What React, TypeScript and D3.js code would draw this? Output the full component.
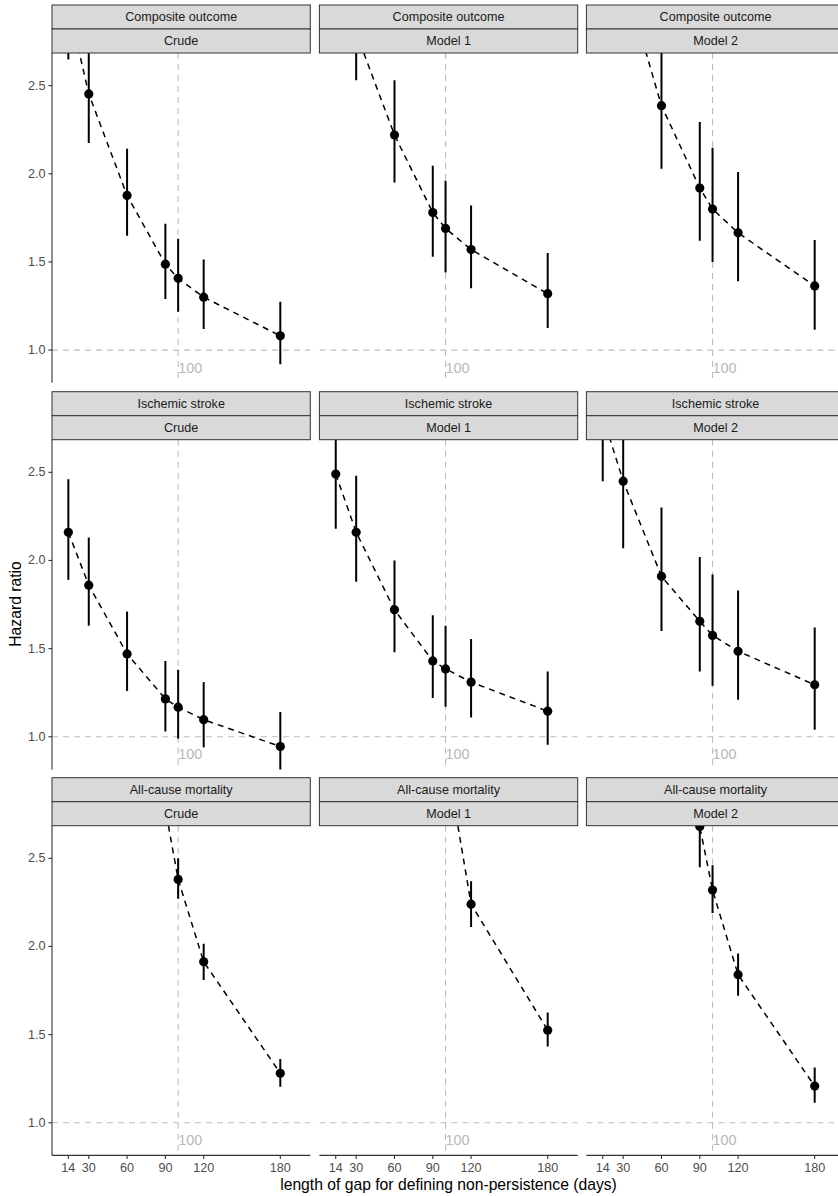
import React from "react";
import * as d3 from "d3";

// ---------- data ----------
const outcomes = ["Composite outcome", "Ischemic stroke", "All-cause mortality"];
const models = ["Crude", "Model 1", "Model 2"];
const gapDays = [14, 30, 60, 90, 100, 120, 180];
const xTicks = [14, 30, 60, 90, 120, 180];
const yTicks = [1.0, 1.5, 2.0, 2.5];

// Composite outcome
const compositeCrudeHR = [2.96, 2.453, 1.877, 1.487, 1.407, 1.3, 1.081];
const compositeCrudeLo = [2.648, 2.174, 1.648, 1.29, 1.217, 1.119, 0.92];
const compositeCrudeHi = [3.3, 2.75, 2.142, 1.716, 1.631, 1.514, 1.274];
const compositeM1HR = [3.35, 2.8, 2.22, 1.78, 1.69, 1.57, 1.32];
const compositeM1Lo = [2.95, 2.53, 1.95, 1.53, 1.44, 1.35, 1.125];
const compositeM1Hi = [3.8, 3.12, 2.53, 2.045, 1.96, 1.82, 1.55];
const compositeM2HR = [3.6, 3.13, 2.386, 1.919, 1.8, 1.665, 1.364];
const compositeM2Lo = [3.15, 2.75, 2.028, 1.62, 1.5, 1.39, 1.115];
const compositeM2Hi = [4.1, 3.55, 2.8, 2.294, 2.148, 2.01, 1.625];

// Ischemic stroke
const strokeCrudeHR = [2.16, 1.86, 1.47, 1.215, 1.168, 1.097, 0.945];
const strokeCrudeLo = [1.89, 1.63, 1.26, 1.03, 0.99, 0.94, 0.81];
const strokeCrudeHi = [2.46, 2.13, 1.71, 1.43, 1.38, 1.31, 1.14];
const strokeM1HR = [2.49, 2.16, 1.72, 1.43, 1.385, 1.31, 1.145];
const strokeM1Lo = [2.18, 1.88, 1.48, 1.22, 1.17, 1.11, 0.955];
const strokeM1Hi = [2.85, 2.48, 2.0, 1.69, 1.63, 1.555, 1.37];
const strokeM2HR = [2.82, 2.45, 1.91, 1.655, 1.575, 1.485, 1.295];
const strokeM2Lo = [2.45, 2.07, 1.6, 1.37, 1.29, 1.21, 1.04];
const strokeM2Hi = [3.25, 2.8, 2.3, 2.02, 1.92, 1.83, 1.62];

// All-cause mortality
const mortalityCrudeHR = [6.0, 4.9, 3.6, 2.78, 2.38, 1.913, 1.281];
const mortalityCrudeLo = [5.2, 4.4, 3.3, 2.71, 2.27, 1.81, 1.205];
const mortalityCrudeHi = [6.9, 5.5, 3.9, 2.9, 2.5, 2.015, 1.362];
const mortalityM1HR = [8.0, 6.5, 4.8, 3.6, 3.1, 2.24, 1.525];
const mortalityM1Lo = [7.0, 5.8, 4.4, 3.3, 2.9, 2.11, 1.432];
const mortalityM1Hi = [9.1, 7.3, 5.2, 3.9, 3.3, 2.37, 1.625];
const mortalityM2HR = [7.0, 5.5, 3.8, 2.68, 2.32, 1.84, 1.208];
const mortalityM2Lo = [6.0, 4.8, 3.4, 2.45, 2.19, 1.72, 1.114];
const mortalityM2Hi = [8.1, 6.3, 4.2, 2.95, 2.46, 1.96, 1.313];

const panelHR = [
  [compositeCrudeHR, compositeM1HR, compositeM2HR],
  [strokeCrudeHR, strokeM1HR, strokeM2HR],
  [mortalityCrudeHR, mortalityM1HR, mortalityM2HR],
];
const panelLo = [
  [compositeCrudeLo, compositeM1Lo, compositeM2Lo],
  [strokeCrudeLo, strokeM1Lo, strokeM2Lo],
  [mortalityCrudeLo, mortalityM1Lo, mortalityM2Lo],
];
const panelHi = [
  [compositeCrudeHi, compositeM1Hi, compositeM2Hi],
  [strokeCrudeHi, strokeM1Hi, strokeM2Hi],
  [mortalityCrudeHi, mortalityM1Hi, mortalityM2Hi],
];

const refX = 100;
const refY = 1.0;
const refLabelY = 0.9;

// ---------- layout ----------
const W = 838;
const H = 1196;
const colLeft = [52, 319.4, 586.4];
const panelW = 258.3;
const stripTop = [5, 391.7, 777.7];
const stripH = 24;
const panelH = 329.7;
const font = "'Liberation Sans', Arial, Helvetica, sans-serif";

const xBase = d3.scaleLinear().domain([1.2, 203.5]).range([0, panelW]);
const yBase = d3.scaleLinear().domain([0.815, 2.685]).range([panelH, 0]);

export default function App() {
  const lineGen = d3
    .line<[number, number]>()
    .x((d) => xBase(d[0]))
    .y((d) => yBase(d[1]));

  const panels: React.ReactNode[] = [];
  for (let r = 0; r < 3; r++) {
    for (let c = 0; c < 3; c++) {
      const px = colLeft[c];
      const sy = stripTop[r];
      const py = sy + stripH * 2;
      const id = `clip-${r}-${c}`;
      const hr = panelHR[r][c];
      const lo = panelLo[r][c];
      const hi = panelHi[r][c];
      const pts: [number, number][] = gapDays.map((d, i) => [d, hr[i]]);
      panels.push(
        <g key={id}>
          <defs>
            <clipPath id={id}>
              <rect x={0} y={0} width={panelW} height={panelH} />
            </clipPath>
          </defs>
          <g transform={`translate(${px},${py})`}>
            <g clipPath={`url(#${id})`}>
              <line
                x1={0}
                x2={panelW}
                y1={yBase(refY)}
                y2={yBase(refY)}
                stroke="#bdbdbd"
                strokeWidth={1.1}
                strokeDasharray="6,5"
              />
              <line
                x1={xBase(refX)}
                x2={xBase(refX)}
                y1={0}
                y2={panelH}
                stroke="#bdbdbd"
                strokeWidth={1.1}
                strokeDasharray="6,5"
              />
              <path
                d={lineGen(pts) || ""}
                fill="none"
                stroke="#000"
                strokeWidth={1.5}
                strokeDasharray="6,5"
              />
              {gapDays.map((d, i) => (
                <line
                  key={`e${i}`}
                  x1={xBase(d)}
                  x2={xBase(d)}
                  y1={yBase(lo[i])}
                  y2={yBase(hi[i])}
                  stroke="#000"
                  strokeWidth={2}
                />
              ))}
              {gapDays.map((d, i) => (
                <circle key={`p${i}`} cx={xBase(d)} cy={yBase(hr[i])} r={4.6} fill="#000" />
              ))}
            </g>
            <text
              x={xBase(refX)}
              y={yBase(refLabelY)}
              fill="#b8b8b8"
              fontSize={14.4}
              fontFamily={font}
              dominantBaseline="central"
              textAnchor="start"
            >
              {refX}
            </text>
          </g>
          {/* strips */}
          <rect x={px} y={sy} width={panelW} height={stripH} fill="#d9d9d9" stroke="#333" strokeWidth={1} />
          <rect x={px} y={sy + stripH} width={panelW} height={stripH} fill="#d9d9d9" stroke="#333" strokeWidth={1} />
          <text
            x={px + panelW / 2}
            y={sy + stripH / 2}
            textAnchor="middle"
            dominantBaseline="central"
            fontSize={12.6}
            fontFamily={font}
            fill="#1a1a1a"
          >
            {outcomes[r]}
          </text>
          <text
            x={px + panelW / 2}
            y={sy + stripH * 1.5}
            textAnchor="middle"
            dominantBaseline="central"
            fontSize={12.6}
            fontFamily={font}
            fill="#1a1a1a"
          >
            {models[c]}
          </text>
        </g>
      );
    }
  }

  // y axes (first column)
  const yAxes = [0, 1, 2].map((r) => {
    const py = stripTop[r] + stripH * 2;
    return (
      <g key={`ya${r}`} transform={`translate(${colLeft[0]},${py})`}>
        <line x1={0} x2={0} y1={0} y2={panelH} stroke="#333" strokeWidth={1.1} />
        {yTicks.map((t) => (
          <g key={t} transform={`translate(0,${yBase(t)})`}>
            <line x1={-3.6} x2={0} stroke="#333" strokeWidth={1.1} />
            <text
              x={-6.5}
              textAnchor="end"
              dominantBaseline="central"
              fontSize={12.6}
              fontFamily={font}
              fill="#4d4d4d"
            >
              {t.toFixed(1)}
            </text>
          </g>
        ))}
      </g>
    );
  });

  // x axes (bottom row)
  const bottomY = stripTop[2] + stripH * 2 + panelH;
  const xAxes = [0, 1, 2].map((c) => (
    <g key={`xa${c}`} transform={`translate(${colLeft[c]},${bottomY})`}>
      <line x1={0} x2={panelW} y1={0} y2={0} stroke="#333" strokeWidth={1.1} />
      {xTicks.map((t) => (
        <g key={t} transform={`translate(${xBase(t)},0)`}>
          <line y1={0} y2={3.6} stroke="#333" strokeWidth={1.1} />
          <text
            y={13}
            textAnchor="middle"
            dominantBaseline="central"
            fontSize={12.6}
            fontFamily={font}
            fill="#4d4d4d"
          >
            {t}
          </text>
        </g>
      ))}
    </g>
  ));

  return (
    <svg
      width={W}
      height={H}
      viewBox={`0 0 ${W} ${H}`}
      style={{ position: "absolute", left: 0, top: 0, background: "#fff" }}
    >
      <rect x={0} y={0} width={W} height={H} fill="#fff" />
      {panels}
      {yAxes}
      {xAxes}
      <text
        x={448.5}
        y={1184}
        textAnchor="middle"
        dominantBaseline="central"
        fontSize={15.7}
        fontFamily={font}
        fill="#000"
      >
        length of gap for defining non-persistence (days)
      </text>
      <text
        transform={`translate(15,604) rotate(-90)`}
        textAnchor="middle"
        dominantBaseline="central"
        fontSize={15.7}
        fontFamily={font}
        fill="#000"
      >
        Hazard ratio
      </text>
    </svg>
  );
}
